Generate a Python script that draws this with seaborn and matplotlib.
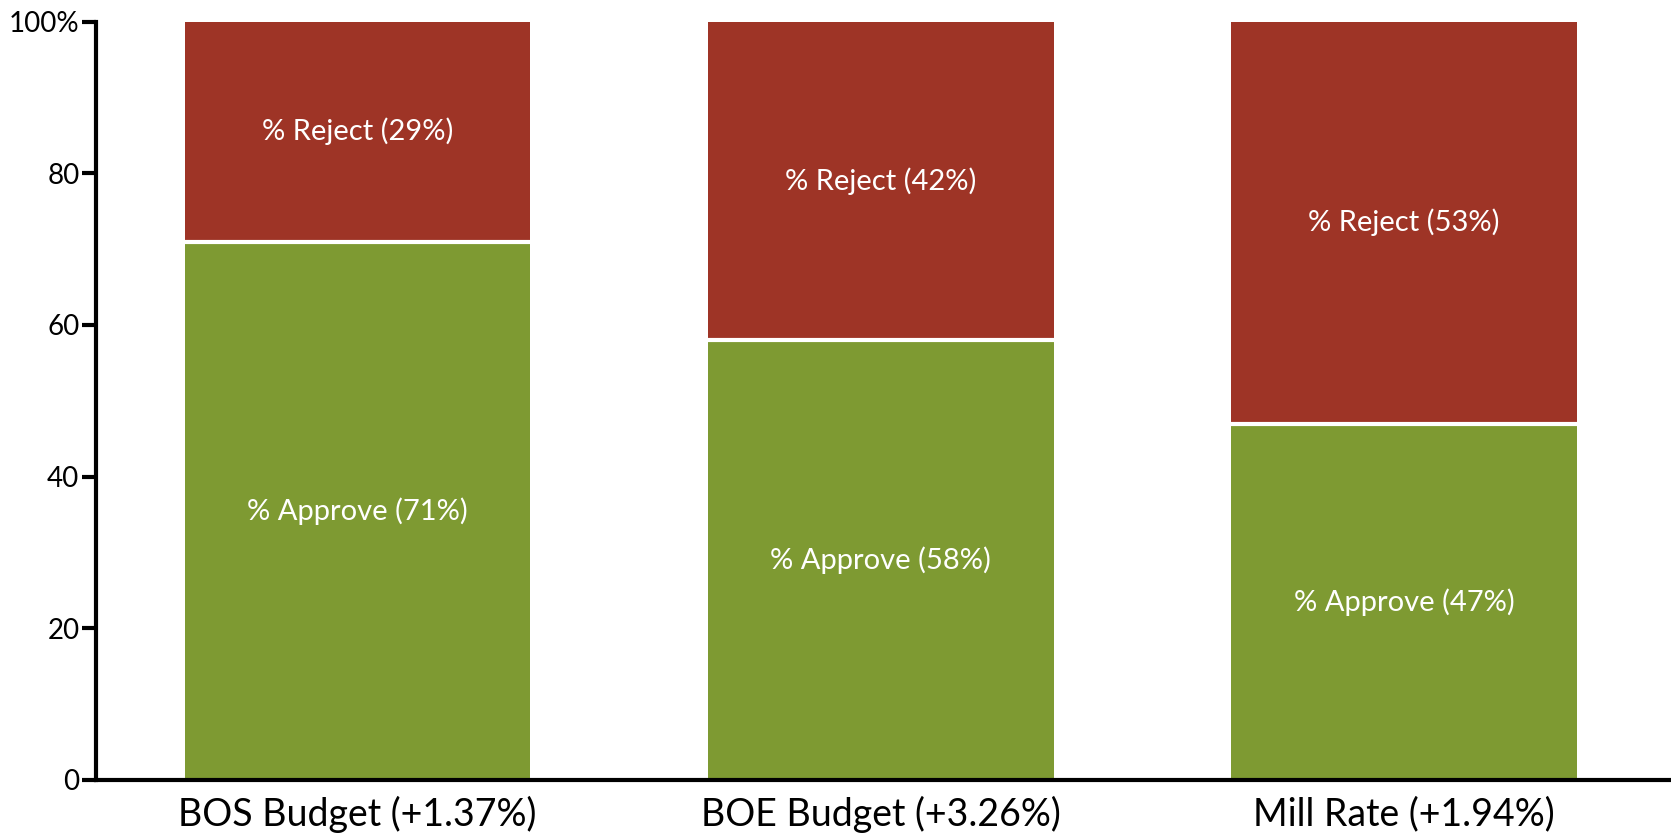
import pandas as pd
import seaborn as sns
import matplotlib.pyplot as plt

sns.set_style("white")
plt.rcParams['font.family'] = ['Lato', 'DejaVu Sans']

# Data
measures = ['BOS Budget (+1.37%)', 'BOE Budget (+3.26%)', 'Mill Rate (+1.94%)']
approve = [71, 58, 47]
reject = [29, 42, 53]

df = pd.DataFrame({'Measure': measures, 'Approve': approve, 'Reject': reject})
df['Total'] = df['Approve'] + df['Reject']

green = '#7E9A32'
red = '#9E3426'

fig = plt.figure(figsize=(16.71, 8.35), dpi=100)
ax = fig.add_axes([0.0575, 0.066, 0.9425, 0.908])

# stacked: total (reject on top) then approve over it
sns.barplot(data=df, x='Measure', y='Total', color=red, width=0.66,
            saturation=1, linewidth=0, ax=ax)
sns.barplot(data=df, x='Measure', y='Approve', color=green, width=0.66,
            saturation=1, linewidth=0, ax=ax)

# white separator line between segments
for i, a in enumerate(df['Approve']):
    ax.plot([i - 0.33, i + 0.33], [a, a], color='white', lw=3, solid_capstyle='butt')

for i, row in df.iterrows():
    ax.text(i, row['Approve'] / 2, f"% Approve ({row['Approve']}%)",
            ha='center', va='center', color='white', fontsize=21)
    ax.text(i, row['Approve'] + row['Reject'] / 2, f"% Reject ({row['Reject']}%)",
            ha='center', va='center', color='white', fontsize=21)

ax.set_ylim(0, 100)
ax.set_xlim(-0.5, 2.51)
ax.set_yticks([0, 20, 40, 60, 80, 100])
ax.set_yticklabels(['0', '20', '40', '60', '80', '100%'])
ax.set_xlabel('')
ax.set_ylabel('')

sns.despine(ax=ax, top=True, right=True)
for s in ['left', 'bottom']:
    ax.spines[s].set_linewidth(3)
    ax.spines[s].set_color('black')
ax.tick_params(axis='y', which='both', left=True, length=10, width=3,
               labelsize=20, pad=2, colors='black')
ax.tick_params(axis='x', bottom=False, labelsize=27, pad=8, colors='black')

fig.savefig('out.png', dpi=100)
